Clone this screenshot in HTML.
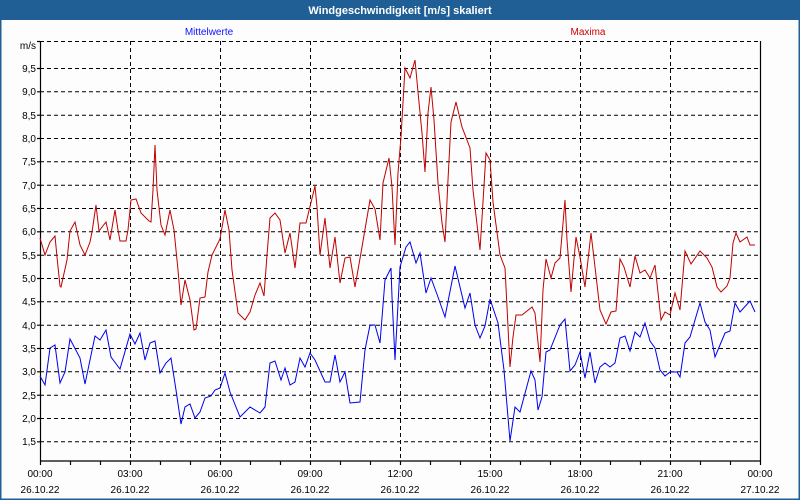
<!DOCTYPE html>
<html><head><style>
body{margin:0;padding:0;background:#fff}
svg{display:block;font-family:"Liberation Sans",sans-serif}
</style></head><body>
<svg width="800" height="500" xmlns="http://www.w3.org/2000/svg">
<rect x="0" y="0" width="800" height="500" fill="#fdfdfd"/>
<rect x="0.5" y="0.5" width="799" height="499" fill="none" stroke="#1f5f96" stroke-width="2"/>
<rect x="0" y="0" width="800" height="20" fill="#1f5f96"/>
<text x="400" y="14" text-anchor="middle" font-size="11" font-weight="bold" fill="#fff">Windgeschwindigkeit [m/s] skaliert</text>
<text x="209" y="35" text-anchor="middle" font-size="10" fill="#1010ff">Mittelwerte</text>
<text x="588" y="35" text-anchor="middle" font-size="10" fill="#d00000">Maxima</text>
<g stroke="#000" stroke-width="1" stroke-dasharray="4,3" fill="none">
<line x1="40" y1="41.5" x2="760" y2="41.5"/>
<line x1="40" y1="68.5" x2="760" y2="68.5"/>
<line x1="40" y1="91.8" x2="760" y2="91.8"/>
<line x1="40" y1="115.2" x2="760" y2="115.2"/>
<line x1="40" y1="138.5" x2="760" y2="138.5"/>
<line x1="40" y1="161.8" x2="760" y2="161.8"/>
<line x1="40" y1="185.2" x2="760" y2="185.2"/>
<line x1="40" y1="208.5" x2="760" y2="208.5"/>
<line x1="40" y1="231.8" x2="760" y2="231.8"/>
<line x1="40" y1="255.2" x2="760" y2="255.2"/>
<line x1="40" y1="278.5" x2="760" y2="278.5"/>
<line x1="40" y1="301.8" x2="760" y2="301.8"/>
<line x1="40" y1="325.2" x2="760" y2="325.2"/>
<line x1="40" y1="348.5" x2="760" y2="348.5"/>
<line x1="40" y1="371.8" x2="760" y2="371.8"/>
<line x1="40" y1="395.2" x2="760" y2="395.2"/>
<line x1="40" y1="418.5" x2="760" y2="418.5"/>
<line x1="40" y1="441.8" x2="760" y2="441.8"/>
<line x1="130.5" y1="41" x2="130.5" y2="461"/>
<line x1="220.5" y1="41" x2="220.5" y2="461"/>
<line x1="310.5" y1="41" x2="310.5" y2="461"/>
<line x1="400.5" y1="41" x2="400.5" y2="461"/>
<line x1="490.5" y1="41" x2="490.5" y2="461"/>
<line x1="580.5" y1="41" x2="580.5" y2="461"/>
<line x1="670.5" y1="41" x2="670.5" y2="461"/>
</g>
<g stroke="#000" stroke-width="1.2" fill="none">
<line x1="40.5" y1="41" x2="40.5" y2="461"/>
<line x1="760.5" y1="41" x2="760.5" y2="461"/>
<line x1="40" y1="461" x2="761" y2="461"/>
<path d="M40.5 461v4M70.5 461v4M100.5 461v4M130.5 461v4M160.5 461v4M190.5 461v4M220.5 461v4M250.5 461v4M280.5 461v4M310.5 461v4M340.5 461v4M370.5 461v4M400.5 461v4M430.5 461v4M460.5 461v4M490.5 461v4M520.5 461v4M550.5 461v4M580.5 461v4M610.5 461v4M640.5 461v4M670.5 461v4M700.5 461v4M730.5 461v4M760.5 461v4"/>
<path d="M37 41.5h3M37 68.5h3M37 91.8h3M37 115.2h3M37 138.5h3M37 161.8h3M37 185.2h3M37 208.5h3M37 231.8h3M37 255.2h3M37 278.5h3M37 301.8h3M37 325.2h3M37 348.5h3M37 371.8h3M37 395.2h3M37 418.5h3M37 441.8h3"/>
</g>
<g font-size="10" fill="#000" text-anchor="end">
<text x="36" y="49">m/s</text>
<text x="36" y="72">9,5</text><text x="36" y="95">9,0</text><text x="36" y="119">8,5</text>
<text x="36" y="142">8,0</text><text x="36" y="165">7,5</text><text x="36" y="189">7,0</text>
<text x="36" y="212">6,5</text><text x="36" y="235">6,0</text><text x="36" y="259">5,5</text>
<text x="36" y="282">5,0</text><text x="36" y="305">4,5</text><text x="36" y="329">4,0</text>
<text x="36" y="352">3,5</text><text x="36" y="375">3,0</text><text x="36" y="399">2,5</text>
<text x="36" y="422">2,0</text><text x="36" y="445">1,5</text>
</g>
<g font-size="10" fill="#000" text-anchor="middle">
<text x="40" y="477">00:00</text><text x="40" y="493">26.10.22</text>
<text x="130" y="477">03:00</text><text x="130" y="493">26.10.22</text>
<text x="220" y="477">06:00</text><text x="220" y="493">26.10.22</text>
<text x="310" y="477">09:00</text><text x="310" y="493">26.10.22</text>
<text x="400" y="477">12:00</text><text x="400" y="493">26.10.22</text>
<text x="490" y="477">15:00</text><text x="490" y="493">26.10.22</text>
<text x="580" y="477">18:00</text><text x="580" y="493">26.10.22</text>
<text x="670" y="477">21:00</text><text x="670" y="493">26.10.22</text>
<text x="760" y="477">00:00</text><text x="760" y="493">27.10.22</text>
</g>
<polyline fill="none" stroke="#c00000" stroke-width="1" points="40,238 45,255 50,242 55,236 57,257 60,286 61,287 67,260 70,231 75,222 80,245 85,255 90,242 92,232 96,205 99,231 106,222 110,240 115,210 118,230 120,241 126,241 128,230 131,200 136,199 141,213 149,221 151,222 153,190 155,145 157,190 161,225 165,235 170,210 174,230 178,270 181,305 185,280 190,300 194,330 196,329 200,298 205,297 208,272 212,255 220,239 225,210 229,230 232,270 238,313 245,320 250,312 255,295 260,283 264,296 267,255 270,218 275,213 280,220 285,253 290,233 295,268 300,223 306,223 315,186 317,207 320,255 325,218 330,268 335,237 340,283 345,258 350,257 355,287 362,247 370,200 375,209 380,240 383,183 389,158 392,187 395,245 398,173 401,137 405,68 410,78 415,60 418,92 422,133 425,172 428,113 431,87 434,120 438,183 442,223 445,242 448,180 451,122 456,102 462,127 470,148 473,190 480,250 483,202 486,153 490,160 493,202 500,255 505,268 507,307 510,367 513,337 516,315 522,315 532,307 535,313 540,362 543,290 546,259 551,278 555,263 560,258 565,200 567,240 571,292 576,237 580,257 585,287 591,233 595,267 600,310 606,324 611,312 616,311 620,259 624,267 630,287 635,256 640,273 645,270 650,278 655,265 661,320 665,312 670,315 675,293 680,310 685,251 691,264 700,251 707,258 712,267 717,287 721,292 727,286 730,278 733,243 736,233 740,242 747,237 750,245 755,245"/>
<polyline fill="none" stroke="#0000ee" stroke-width="1" points="40,376 45,385 50,348 55,345 60,383 65,372 70,339 80,358 85,384 95,336 100,340 106,330 111,357 120,369 130,334 135,344 140,333 145,360 150,343 155,341 160,373 166,363 171,358 176,390 181,424 185,407 190,404 195,418 200,412 205,398 211,396 215,390 220,388 225,373 230,392 240,417 250,407 260,413 265,407 270,363 275,361 281,380 285,368 290,385 295,382 300,358 305,367 310,353 315,360 325,382 330,382 335,355 340,382 345,372 350,403 360,402 365,350 370,325 375,325 380,343 385,280 387,276 391,268 392,297 395,360 400,267 406,247 410,242 416,263 420,253 426,293 431,278 438,297 445,317 455,266 465,308 470,293 475,325 480,338 485,326 490,299 498,323 504,370 510,441 515,407 520,412 531,371 535,380 538,410 542,397 546,352 550,350 560,325 565,319 570,371 575,365 580,352 585,378 590,352 595,383 600,367 605,363 610,367 615,363 620,338 625,336 630,351 635,332 640,337 645,323 650,341 655,348 660,370 665,376 670,372 677,372 680,377 685,343 690,337 700,303 705,322 710,330 715,357 720,345 725,333 730,331 735,303 740,312 750,301 755,312"/>
</svg>
</body></html>
